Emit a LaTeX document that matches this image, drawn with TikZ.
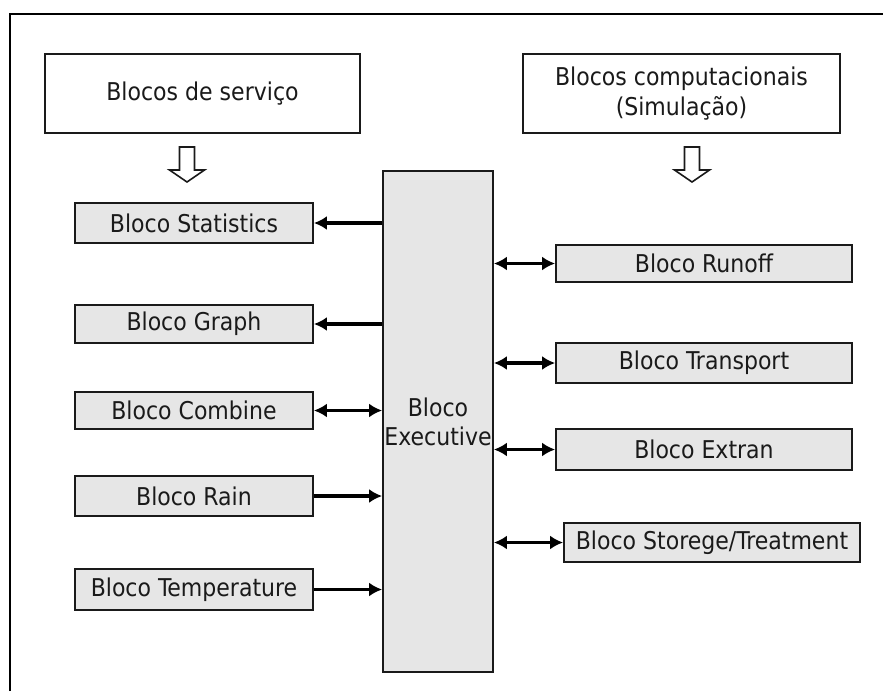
\documentclass[tikz,border=0pt]{standalone}
\usepackage{fontspec}
\setmainfont{DejaVu Sans Condensed}
\usetikzlibrary{arrows.meta}
\definecolor{boxgray}{HTML}{E6E6E6}
\definecolor{ink}{HTML}{1A1A1A}
\tikzset{
  blk/.style={draw=ink, line width=1.8pt, fill=boxgray, text=ink, inner sep=0pt,
    font=\fontsize{24.5}{29}\selectfont},
  head/.style={draw=ink, line width=1.8pt, fill=white, text=ink, align=center,
    inner sep=0pt, font=\fontsize{24.5}{30}\selectfont},
  onearr/.style={line width=3.6pt, -{Latex[length=13pt,width=14pt]}},
  twoarr/.style={line width=3.6pt, {Latex[length=13pt,width=14pt]}-{Latex[length=13pt,width=14pt]}},
  downarrow/.pic={
    \draw[draw=ink, line width=1.6pt, fill=white] (-7.5,0) -- (7.5,0) -- (7.5,23)
      -- (17.5,23) -- (0,35) -- (-17.5,23) -- (-7.5,23) -- cycle;}
}
\begin{document}
\begin{tikzpicture}[x=1pt,y=-1pt]
  \useasboundingbox (0,0) rectangle (883,691);
  % frame
  \draw[line width=2.8pt] (10,691) -- (10,14) -- (883,14);

  % heading boxes
  \node[head, minimum width=315pt, minimum height=79pt] (srv) at (202.5,93.5) {Blocos de serviço};
  \node[head, minimum width=317pt, minimum height=79pt] (comp) at (681.5,93.5) {Blocos computacionais\\(Simulação)};
  \pic at (187,147) {downarrow};
  \pic at (692,147) {downarrow};

  % executive
  \node[blk, align=center, minimum width=110pt, minimum height=501pt] (exec) at (438,421.5) {Bloco\\Executive};

  % service blocks
  \node[blk, minimum width=238pt, minimum height=40pt] (stat) at (194,223) {Bloco Statistics};
  \node[blk, minimum width=238pt, minimum height=38pt] (graph) at (194,324) {Bloco Graph};
  \node[blk, minimum width=238pt, minimum height=37pt] (comb) at (194,410.5) {Bloco Combine};
  \node[blk, minimum width=238pt, minimum height=40pt] (rain) at (194,496) {Bloco Rain};
  \node[blk, minimum width=238pt, minimum height=41pt] (temp) at (194,589.5) {Bloco Temperature};

  % computational blocks
  \node[blk, minimum width=296pt, minimum height=37pt] (runoff) at (704,263.5) {Bloco Runoff};
  \node[blk, minimum width=296pt, minimum height=40pt] (trans) at (704,363) {Bloco Transport};
  \node[blk, minimum width=296pt, minimum height=41pt] (extran) at (704,449.5) {Bloco Extran};
  \node[blk, minimum width=296pt, minimum height=39pt] (stor) at (712,542.5) {Bloco Storege/Treatment};

  % links
  \draw[onearr] (exec.west |- stat) -- (stat);
  \draw[onearr] (exec.west |- graph) -- (graph);
  \draw[twoarr] (comb) -- (exec.west |- comb);
  \draw[onearr] (rain) -- (exec.west |- rain);
  \draw[onearr] (temp) -- (exec.west |- temp);
  \draw[twoarr] (exec.east |- runoff) -- (runoff);
  \draw[twoarr] (exec.east |- trans) -- (trans);
  \draw[twoarr] (exec.east |- extran) -- (extran);
  \draw[twoarr] (exec.east |- stor) -- (stor);
\end{tikzpicture}
\end{document}
